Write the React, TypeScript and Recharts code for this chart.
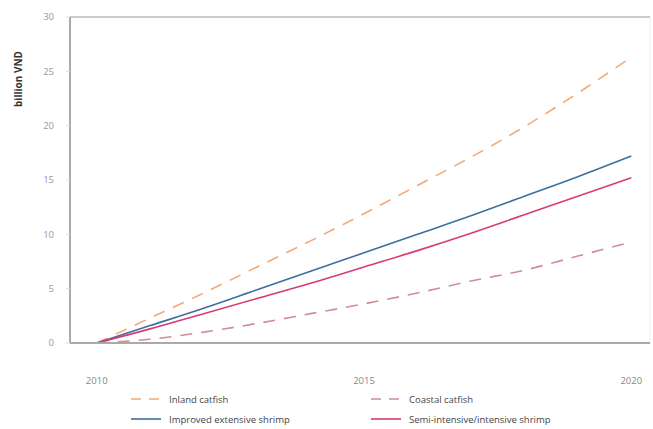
import { Line, LineChart, ReferenceLine, XAxis, YAxis } from "recharts";

const years = [2010, 2011, 2012, 2013, 2014, 2015, 2016, 2017, 2018, 2019, 2020];
const inlandCatfish = [0, 2.3, 4.6, 7.0, 9.4, 11.9, 14.5, 17.1, 19.9, 23.0, 26.3];
const coastalCatfish = [0, 0.35, 1.0, 1.8, 2.7, 3.6, 4.6, 5.7, 6.7, 8.0, 9.3];
const improvedShrimp = [0, 1.6, 3.2, 4.9, 6.6, 8.3, 10.0, 11.7, 13.5, 15.3, 17.2];
const intensiveShrimp = [0, 1.3, 2.7, 4.1, 5.5, 7.0, 8.5, 10.1, 11.8, 13.5, 15.2];
const xTicks = [2010, 2015, 2020];
const yTicks = [0, 5, 10, 15, 20, 25, 30];

const data = years.map((year, i) => ({
  year,
  inland: inlandCatfish[i],
  coastal: coastalCatfish[i],
  improved: improvedShrimp[i],
  intensive: intensiveShrimp[i],
}));

const series = [
  { key: "inland", name: "Inland catfish", color: "#f4a878", dash: "12 9" },
  { key: "coastal", name: "Coastal catfish", color: "#cf8f90", dash: "12 9" },
  { key: "improved", name: "Improved extensive shrimp", color: "#3f6e9e", dash: undefined },
  { key: "intensive", name: "Semi-intensive/intensive shrimp", color: "#d93a72", dash: undefined },
];

const font = "'Open Sans', 'Noto Sans', sans-serif";

// legend drawn below the plot, two rows by two columns
function LegendBox() {
  return (
    <div
      style={{
        position: "absolute",
        left: 131,
        top: 392,
        display: "grid",
        gridTemplateColumns: "240px 260px",
        rowGap: 6,
        fontFamily: font,
        fontSize: 9.5,
        color: "#444",
      }}
    >
      {series.map((s) => (
        <div key={s.key} style={{ display: "flex", alignItems: "center", height: 14 }}>
          <svg width={30} height={6} style={{ marginRight: 8 }}>
            <line
              x1={0}
              y1={3}
              x2={30}
              y2={3}
              stroke={s.color}
              strokeWidth={1.6}
              strokeDasharray={s.dash ? "10 8" : undefined}
            />
          </svg>
          {s.name}
        </div>
      ))}
    </div>
  );
}

export default function App() {
  return (
    <div style={{ position: "absolute", left: 0, top: 0, width: 653, height: 429, background: "#fff" }}>
      <LineChart
        width={653}
        height={429}
        data={data}
        margin={{ top: 17, right: 3, left: 0, bottom: 56 }}
      >
        <XAxis
          dataKey="year"
          type="number"
          domain={[2009.5, 2020.35]}
          ticks={xTicks}
          height={30}
          axisLine={{ stroke: "#aaa", strokeWidth: 2 }}
          tickLine={false}
          tickSize={0}
          tickMargin={34}
          tick={{ fontSize: 9.5, fill: "#888", fontFamily: font }}
        />
        <YAxis
          width={70}
          domain={[0, 30]}
          ticks={yTicks}
          axisLine={{ stroke: "#aaa", strokeWidth: 2 }}
          tickLine={{ stroke: "#ddd" }}
          tickSize={4}
          tickMargin={12}
          tick={{ fontSize: 9.5, fill: "#999", fontFamily: font }}
          label={{
            content: () => (
              <text
                x={18}
                y={79}
                transform="rotate(-90 18 79)"
                textAnchor="middle"
                dominantBaseline="central"
                fontSize={10}
                fontWeight="bold"
                fill="#333"
                fontFamily={font}
              >
                billion VND
              </text>
            ),
          }}
        />
        <ReferenceLine y={30} stroke="#ccc" strokeWidth={2} />
        <ReferenceLine x={2020.35} stroke="#f0f0f0" strokeWidth={1} />
        {series.map((s) => (
          <Line
            key={s.key}
            type="monotone"
            dataKey={s.key}
            name={s.name}
            stroke={s.color}
            strokeWidth={1.6}
            strokeDasharray={s.dash}
            dot={false}
            isAnimationActive={false}
          />
        ))}
      </LineChart>
      <LegendBox />
    </div>
  );
}
